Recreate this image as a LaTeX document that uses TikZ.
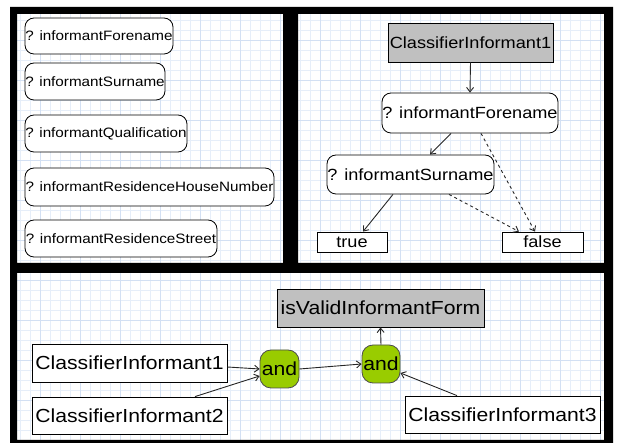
\documentclass[tikz,border=0pt]{standalone}
\usepackage{fontspec}
\setmainfont[FakeStretch=1.12]{Liberation Sans}
\usetikzlibrary{arrows.meta}
\definecolor{gridminor}{HTML}{E6EEF9}
\definecolor{gridmajor}{HTML}{D3E0F3}
\definecolor{classgray}{HTML}{C0C0C0}
\definecolor{andgreen}{HTML}{99CC00}
\begin{document}
\begin{tikzpicture}[x=1pt,y=-1pt,>={Straight Barb[length=4.5pt,width=7pt]},
    cond/.style={draw,line width=0.8pt,rounded corners=9pt,fill=white,inner sep=0pt},
    leaf/.style={draw,line width=0.8pt,fill=white,inner sep=0pt},
    classifier/.style={draw,line width=0.8pt,fill=classgray,inner sep=0pt},
    andnode/.style={draw=black!70,line width=0.8pt,rounded corners=11pt,fill=andgreen,inner sep=0pt},
    small/.style={font=\fontsize{13.6}{15}\selectfont},
    medium/.style={font=\fontsize{16.2}{18}\selectfont},
    large/.style={font=\fontsize{18.9}{21}\selectfont},
    link/.style={->,line width=0.9pt,black!85}]
    \useasboundingbox (0,0) rectangle (622,443);

    \draw[gridminor,step=10pt] (10,7) grid (613,443);
    \draw[gridmajor,step=40pt] (10,7) grid (613,443);
    \fill[black,even odd rule] (10,7) rectangle (613,443)
      (17,14) rectangle (283,263)
      (298,14) rectangle (604,263)
      (17,273) rectangle (604,440);

    % attribute list
    \node[cond,small,minimum width=148pt,minimum height=36pt] (lf) at (99,36) {? informantForename};
    \node[cond,small,minimum width=140pt,minimum height=37pt] (ls) at (95,81.5) {? informantSurname};
    \node[cond,small,minimum width=162pt,minimum height=37pt] (lq) at (106,133.5) {? informantQualification};
    \node[cond,small,minimum width=249pt,minimum height=38pt] (lh) at (149.5,187) {? informantResidenceHouseNumber};
    \node[cond,small,minimum width=192pt,minimum height=37pt] (lst) at (121,238.5) {? informantResidenceStreet};

    % decision tree
    \node[classifier,medium,minimum width=165pt,minimum height=39pt] (ci) at (470.5,42.5) {ClassifierInformant1};
    \node[cond,medium,minimum width=176pt,minimum height=40pt] (qf) at (470,113) {? informantForename};
    \node[cond,medium,minimum width=167pt,minimum height=39pt] (qs) at (410.5,174.5) {? informantSurname};
    \node[leaf,medium,minimum width=70pt,minimum height=20pt] (tr) at (352,242) {true};
    \node[leaf,medium,minimum width=81pt,minimum height=20pt] (fa) at (542.5,242) {false};

    \draw[link] (ci.south) -- (qf.north);
    \draw[link] ([xshift=-19pt]qf.south) -- ([xshift=19.5pt]qs.north);
    \draw[link,dashed] ([xshift=11pt]qf.south) -- ([xshift=-7.5pt]fa.north);
    \draw[link] ([xshift=-17.5pt]qs.south) -- ([xshift=11pt]tr.north);
    \draw[link,dashed] ([xshift=38.5pt]qs.south) -- ([xshift=-23.5pt]fa.north);

    % combination
    \node[leaf,large,minimum width=195pt,minimum height=38pt] (ci1) at (129.5,363) {ClassifierInformant1};
    \node[leaf,large,minimum width=195pt,minimum height=37pt] (ci2) at (129.5,415.5) {ClassifierInformant2};
    \node[leaf,large,minimum width=195pt,minimum height=37pt] (ci3) at (502.5,414.5) {ClassifierInformant3};
    \node[andnode,large,minimum width=39pt,minimum height=38pt] (and1) at (279.5,369) {and};
    \node[andnode,large,minimum width=38pt,minimum height=38pt] (and2) at (381,364) {and};
    \node[classifier,large,minimum width=207pt,minimum height=38pt] (valid) at (380.5,308) {isValidInformantForm};

    \draw[link] ([yshift=-4pt]ci1.east) -- (and1.west);
    \draw[link] ([xshift=65.5pt]ci2.north) -- ([yshift=-7pt]and1.west);
    \draw[link] (and1.east) -- (and2.west);
    \draw[link] (and2.north) -- (valid.south);
    \draw[link] ([xshift=-45.5pt]ci3.north) -- ([yshift=-9pt]and2.east);
\end{tikzpicture}
\end{document}
